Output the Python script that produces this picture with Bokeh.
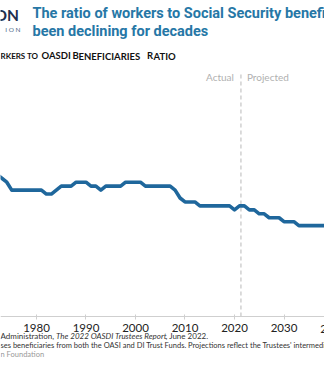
from bokeh.plotting import figure
from bokeh.models import Label, FixedTicker, Range1d
from bokeh.embed import file_html
from bokeh.resources import INLINE

# ---- data ----
years = list(range(1972, 2040))
ratio = [3.6, 3.5, 3.4, 3.2, 3.2, 3.2, 3.2, 3.2,      # 1972-1979
         3.2, 3.2, 3.1, 3.1, 3.2, 3.3, 3.3, 3.3, 3.4, 3.4,  # 1980-1989
         3.4, 3.3, 3.3, 3.2, 3.3, 3.3, 3.3, 3.3, 3.4, 3.4,  # 1990-1999
         3.4, 3.4, 3.3, 3.3, 3.3, 3.3, 3.3, 3.3, 3.2, 3.0,  # 2000-2009
         2.9, 2.9, 2.9, 2.8, 2.8, 2.8, 2.8, 2.8, 2.8, 2.8,  # 2010-2019
         2.7, 2.8, 2.8, 2.7, 2.7, 2.6, 2.6, 2.5, 2.5, 2.5,  # 2020-2029
         2.4, 2.4, 2.4, 2.3, 2.3, 2.3, 2.3, 2.3, 2.3, 2.3]  # 2030-2039
tick_years = [1980, 1990, 2000, 2010, 2020, 2030]
extra_tick = 2040
split_year = 2021.3

title_lines = ["The ratio of workers to Social Security beneficiaries has",
               "been declining for decades"]

W, H = 324, 369
AXIS_PX = 316          # pixel row of the x axis (y = 0)
PPU = 39.5             # pixels per ratio unit


def py(px):
    """pixel row -> data y"""
    return (AXIS_PX - px) / PPU


p = figure(width=W, height=H, output_backend="svg", toolbar_location=None,
           x_range=Range1d(1972.73, 2038.18),
           y_range=Range1d(py(H), py(0)),
           min_border_left=0, min_border_right=0, min_border_top=0,
           min_border_bottom=0)
p.yaxis.visible = False
p.grid.visible = False
p.outline_line_color = None
p.background_fill_color = "white"
p.border_fill_color = "white"

xa = p.xaxis[0]
xa.fixed_location = 0
xa.ticker = FixedTicker(ticks=tick_years)
xa.axis_line_color = "#cfcfcf"
xa.major_tick_line_color = "#cfcfcf"
xa.major_tick_in = 2
xa.major_tick_out = 3
xa.minor_tick_line_color = None
xa.major_label_text_font = "Lato"
xa.major_label_text_font_size = "11.5px"
xa.major_label_text_color = "#222222"
xa.major_label_standoff = 4

p.segment(x0=[split_year], y0=[0], x1=[split_year], y1=[py(73)],
          line_color="#c4c4c4", line_dash="4 3", line_width=1.2)
p.line(years, ratio, line_color="#1f679c", line_width=3.6, line_join="round")

p.add_layout(Label(x=extra_tick, y=py(328.5), x_units="data", y_units="data",
                   text=str(extra_tick), text_align="center", text_baseline="middle",
                   text_font="Lato", text_font_size="11.5px", text_color="#222222"))

p.add_layout(Label(x=split_year, y=py(76.5), text="Actual", x_offset=-7,
                   text_align="right", text_baseline="middle", text_font="Lato",
                   text_font_size="10px", text_color="#b0b0b0"))
p.add_layout(Label(x=split_year, y=py(76.5), text="Projected", x_offset=6,
                   text_align="left", text_baseline="middle", text_font="Lato",
                   text_font_size="10px", text_color="#b0b0b0"))


def lab(x, ypx, text, size, color, font="Lato", style="normal", align="left"):
    p.add_layout(Label(x=x, y=py(ypx), x_units="screen", y_units="data", text=text,
                       text_align=align, text_baseline="middle", text_font=font,
                       text_font_size=size, text_color=color, text_font_style=style))


TF = "Roboto"
lab(32, 13, title_lines[0], "14.5px", "#2677a6", TF, "bold")
lab(32, 31, title_lines[1], "14.5px", "#2677a6", TF, "bold")
lab(18.5, 14, "ON", "15.5px", "#1d2f4f", "Lato", "bold", "right")
lab(20, 29, "I O N", "6.5px", "#4e6a88", "Lato", "normal", "right")

# subtitle in small caps
SC = "#111111"
lab(0, 55.5, "RKERS TO", "8px", SC, "Lato", "bold")
lab(41, 55, "OASDI", "9.5px", SC, "Lato", "bold")
lab(72, 55, "B", "9.5px", SC, "Lato", "bold")
lab(78, 55.5, "ENEFICIARIES", "9.5px", SC, "Lato", "bold")
lab(146.5, 55, "R", "9.5px", SC, "Lato", "bold")
lab(153, 55.5, "ATIO", "9.5px", SC, "Lato", "bold")

# footnotes
FN = "#333333"
FS = "7.5px"
lab(0, 335.5, "Administration,", "8px", FN)
lab(55.5, 335.5, "The 2022 OASDI Trustees Report", "8px", FN, "Lato", "italic")
lab(165, 335.5, ", June 2022.", "8px", FN)
lab(0, 344.5, "ses beneficiaries from both the OASI and DI Trust Funds. Projections reflect the Trustees' intermediate assumptions.",
    FS, FN)
lab(0, 353.5, "n Foundation", FS, "#999999")

open("out.html", "w").write(file_html(p, INLINE))
